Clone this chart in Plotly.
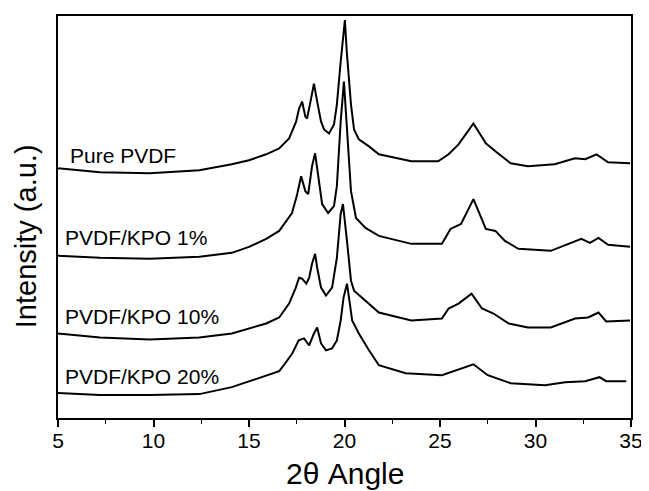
import plotly.graph_objects as go

# 2-theta angle (degrees) and intensity (a.u., offset-stacked)
x_pure = [5.0, 7.2, 9.8, 12.4, 14.1, 15.0, 15.9, 16.58, 17.1, 17.47,
          17.62, 17.78, 17.95, 18.04, 18.25, 18.4, 18.57, 18.77, 18.93, 19.19,
          19.45, 19.6, 19.8, 20.02, 20.12, 20.34, 20.5, 20.75, 21.28, 21.8,
          23.5, 24.9, 25.45, 25.97, 26.75, 27.4, 27.9, 28.7, 29.6, 31.0,
          32.07, 32.6, 33.2, 33.8, 34.95]
y_pure = [251, 247, 246, 249, 255, 259, 265, 271, 281, 298,
          311, 318, 303, 301, 321, 336, 318, 298, 290, 286,
          295, 315, 358, 400, 368, 315, 290, 280, 273, 265,
          258, 258, 265, 275, 296, 276, 268, 256, 253, 255,
          261, 260, 265, 257, 256]

x_kpo1 = [5.0, 7.2, 9.8, 12.4, 14.1, 15.0, 15.9, 16.58, 17.25, 17.5,
          17.73, 17.95, 18.1, 18.3, 18.46, 18.6, 18.83, 19.14, 19.45, 19.6,
          19.8, 19.97, 20.1, 20.34, 20.6, 21.1, 21.8, 23.5, 25.1, 25.55,
          26.1, 26.75, 27.4, 27.9, 28.4, 29.1, 30.8, 31.7, 32.4, 32.85,
          33.3, 33.8, 34.95]
y_kpo1 = [163, 161, 160, 162, 166, 172, 180, 188, 206, 223,
          243, 228, 225, 253, 266, 248, 215, 206, 213, 233,
          298, 338, 298, 228, 201, 191, 183, 175, 175, 190,
          195, 220, 190, 188, 178, 170, 168, 175, 180, 176,
          181, 174, 172]

x_kpo10 = [5.0, 7.2, 9.8, 12.4, 14.1, 15.9, 16.58, 17.1, 17.45, 17.62,
           17.78, 18.0, 18.15, 18.3, 18.46, 18.57, 18.77, 19.03, 19.35, 19.6,
           19.8, 19.92, 20.13, 20.34, 20.5, 21.1, 21.8, 23.5, 25.1, 25.45,
           25.97, 26.65, 27.2, 27.8, 28.6, 29.6, 30.8, 32.07, 32.75, 33.3,
           33.7, 34.95]
y_kpo10 = [85, 81, 79, 81, 85, 95, 101, 115, 131, 141,
           140, 135, 141, 155, 165, 151, 131, 123, 131, 161,
           205, 215, 178, 138, 128, 118, 106, 98, 100, 110,
           115, 125, 110, 105, 95, 91, 91, 100, 101, 106,
           97, 98]

x_kpo20 = [5.0, 7.2, 9.8, 12.4, 14.1, 15.9, 16.58, 16.9, 17.27, 17.6,
           17.88, 18.15, 18.4, 18.57, 18.77, 19.03, 19.35, 19.6, 19.8, 19.95,
           20.13, 20.28, 20.4, 20.75, 21.28, 21.8, 23.2, 25.1, 25.8, 26.75,
           27.5, 28.7, 30.5, 31.55, 32.6, 33.35, 33.7, 34.75]
y_kpo20 = [25, 23, 23, 24, 31, 43, 47, 55, 65, 78,
           80, 73, 85, 91, 75, 68, 70, 78, 98, 121,
           135, 115, 98, 85, 68, 53, 45, 43, 48, 54,
           43, 35, 33, 36, 37, 41, 37, 37]

series_names = ["Pure PVDF", "PVDF/KPO 1%", "PVDF/KPO 10%", "PVDF/KPO 20%"]
label_x = [5.52, 5.26, 5.26, 5.26]
label_y = [264, 181, 102, 42]
x_ticks = [5, 10, 15, 20, 25, 30, 35]

FONT = "Liberation Sans, Arial, Helvetica, sans-serif"

fig = go.Figure()
for name, xs, ys in zip(series_names,
                        [x_pure, x_kpo1, x_kpo10, x_kpo20],
                        [y_pure, y_kpo1, y_kpo10, y_kpo20]):
    fig.add_trace(go.Scatter(x=xs, y=ys, mode="lines", name=name,
                             line=dict(color="black", width=2.0), showlegend=False))

for name, lx, ly in zip(series_names, label_x, label_y):
    fig.add_annotation(x=lx, y=ly, xref="x", yref="y", text=name, showarrow=False,
                       xanchor="left", yanchor="middle",
                       font=dict(family=FONT, size=21, color="black"))

fig.add_annotation(x=0.5, y=-0.139, xref="paper", yref="paper", text="2θ Angle",
                   showarrow=False, xanchor="center", yanchor="middle",
                   font=dict(family=FONT, size=30, color="black"))
fig.add_annotation(x=-0.056, y=0.452, xref="paper", yref="paper", text="Intensity (a.u.)",
                   showarrow=False, xanchor="center", yanchor="middle", textangle=-90,
                   font=dict(family=FONT, size=29, color="black"))

fig.update_layout(
    width=641, height=483,
    margin=dict(l=50, r=16, t=6, b=73),
    paper_bgcolor="white", plot_bgcolor="white",
    font=dict(family=FONT, color="black"),
    xaxis=dict(range=[5, 35], tickvals=x_ticks, ticks="outside", ticklen=7, tickwidth=1.5,
               tickcolor="black", showline=True, linecolor="black", linewidth=2, mirror=True,
               showgrid=False, zeroline=False, ticklabelstandoff=-4,
               tickfont=dict(family=FONT, size=21, color="black"),
               minor=dict(dtick=2.5, ticks="outside", ticklen=4, tickwidth=1.2, tickcolor="black",
                          showgrid=False)),
    yaxis=dict(range=[0, 404], showticklabels=False, ticks="", showline=True, linecolor="black",
               linewidth=2, mirror=True, showgrid=False, zeroline=False),
)

fig.write_html("out.html")
